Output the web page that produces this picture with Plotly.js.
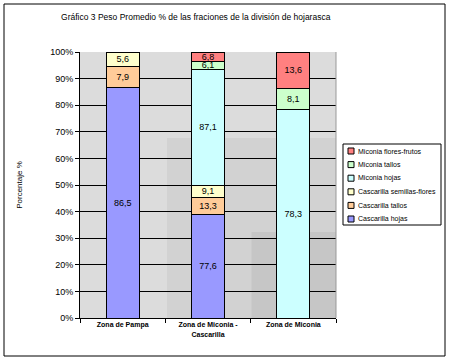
<!DOCTYPE html>
<html><head><meta charset="utf-8">
<script src="https://cdn.plot.ly/plotly-3.0.1.min.js"></script>
<style>html,body{margin:0;padding:0;background:#fff}#c{width:450px;height:361px}</style>
</head><body><div id="c"></div>
<script>
var categories = ['Zona de Pampa', 'Zona de Miconia -<br>Cascarilla', 'Zona de Miconia'];
var cascarillaHojas = [86.5, 77.6, null];
var cascarillaTallos = [7.9, 13.3, null];
var cascarillaSemillasFlores = [5.6, 9.1, null];
var miconiaHojas = [null, 87.1, 78.3];
var miconiaTallos = [null, 6.1, 8.1];
var miconiaFloresFrutos = [null, 6.8, 13.6];
var seriesNames = ['Cascarilla hojas', 'Cascarilla tallos', 'Cascarilla semillas-flores', 'Miconia hojas', 'Miconia tallos', 'Miconia flores-frutos'];
var seriesColors = ['#9999ff', '#ffcc99', '#ffffcc', '#ccffff', '#ccffcc', '#ff8080'];
var seriesValues = [cascarillaHojas, cascarillaTallos, cascarillaSemillasFlores, miconiaHojas, miconiaTallos, miconiaFloresFrutos];

var FONT = 'Liberation Sans, Arial, sans-serif';
var traces = seriesValues.map(function(vals, i){
  return {
    type: 'bar', name: seriesNames[i], x: categories, y: vals,
    text: vals.map(function(v){ return v == null ? '' : String(v).replace('.', ','); }),
    textposition: 'inside', insidetextanchor: 'middle', constraintext: 'none',
    textfont: {family: FONT, size: 9, color: '#000'},
    marker: {color: seriesColors[i], line: {color: '#000', width: 1}},
    hoverinfo: 'skip', showlegend: false
  };
});

// plot area in pixels: x 80..336, y 52..318
function px2x(p){ return (p - 80) / 256; }
function px2y(p){ return (318 - p) / 266; }

var shapes = [
  {type: 'rect', xref: 'paper', yref: 'paper', x0: 0.34, x1: 1, y0: 0, y1: 0.677, layer: 'below',
   fillcolor: '#d2d2d2', line: {width: 0}},
  {type: 'rect', xref: 'paper', yref: 'paper', x0: 0.67, x1: 1, y0: 0, y1: 0.323, layer: 'below',
   fillcolor: '#c6c6c6', line: {width: 0}},
  {type: 'line', xref: 'paper', yref: 'paper', x0: 1, x1: 1, y0: 0, y1: 1, line: {color: '#999', width: 1}},
  {type: 'rect', xref: 'paper', yref: 'paper', x0: px2x(4), x1: px2x(445), y0: px2y(356), y1: px2y(4),
   line: {color: '#000', width: 1}, fillcolor: 'rgba(0,0,0,0)'},
  {type: 'rect', xref: 'paper', yref: 'paper', x0: px2x(343), x1: px2x(441), y0: px2y(225), y1: px2y(144),
   line: {color: '#000', width: 1}, fillcolor: '#fff'}
];
var annotations = [];
for (var k = 0; k < seriesNames.length; k++) {
  var idx = seriesNames.length - 1 - k;
  var cy = 151 + k * 13.6;
  shapes.push({type: 'rect', xref: 'paper', yref: 'paper', x0: px2x(348), x1: px2x(354), y0: px2y(cy + 3), y1: px2y(cy - 3),
               fillcolor: seriesColors[idx], line: {color: '#000', width: 1}});
  annotations.push({xref: 'paper', yref: 'paper', x: px2x(356), y: px2y(cy), xanchor: 'left', yanchor: 'middle',
                    text: seriesNames[idx], showarrow: false, font: {family: FONT, size: 7, color: '#000'}});
}

var layout = {
  width: 450, height: 361,
  margin: {l: 80, r: 114, t: 52, b: 43},
  paper_bgcolor: '#fff', plot_bgcolor: '#dcdcdc',
  barmode: 'stack', barnorm: 'percent', bargap: 0.61,
  font: {family: FONT, size: 9, color: '#000'},
  showlegend: false,
  title: {text: 'Gráfico 3 Peso Promedio % de las fraciones de la división de hojarasca',
          font: {family: FONT, size: 8.5, color: '#000'}, x: 0.435, xanchor: 'center', y: 0.953, yanchor: 'middle'},
  xaxis: {showline: true, linecolor: '#000', linewidth: 1, ticks: 'outside', ticklen: 4, tickcolor: '#000',
          tickson: 'boundaries', tickfont: {family: FONT, size: 7, color: '#000', weight: 'bold'}, fixedrange: true},
  yaxis: {range: [0, 100], dtick: 10, ticksuffix: '%', showline: true, linecolor: '#000', linewidth: 1,
          ticks: 'outside', ticklen: 4, tickcolor: '#000', showgrid: true, gridcolor: '#000', gridwidth: 1,
          zeroline: false, tickfont: {family: FONT, size: 9, color: '#000'},
          title: {text: 'Porcentaje %', font: {family: FONT, size: 8, color: '#000'}, standoff: 26}},
  shapes: shapes,
  annotations: annotations
};
Plotly.newPlot('c', traces, layout, {displayModeBar: false, staticPlot: true});
</script></body></html>
